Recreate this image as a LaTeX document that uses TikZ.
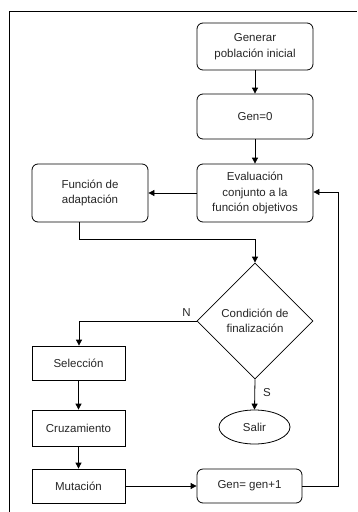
\documentclass[tikz,border=0pt]{standalone}
\usepackage{fontspec}
\setmainfont{Liberation Sans}
\usetikzlibrary{shapes.geometric,arrows.meta}
\begin{document}
\begin{tikzpicture}[x=1pt,y=-1pt,
  every node/.style={font=\fontsize{11.5}{15.5}\selectfont, align=center, inner sep=0pt, text=black!85},
  rbox/.style={draw, rounded corners=6pt, minimum width=116pt, minimum height=47pt, line width=0.8pt},
  sbox/.style={draw, minimum width=93pt, minimum height=34pt, line width=0.8pt},
  dia/.style={draw, diamond, minimum width=116pt, minimum height=116pt, line width=0.8pt},
  oval/.style={draw, ellipse, minimum width=71pt, minimum height=34pt, line width=0.8pt},
  conn/.style={line width=0.8pt, -{Triangle[length=6pt,width=6pt]}},
  plain/.style={line width=0.8pt}]
\useasboundingbox (0,0) rectangle (357,512);
\draw[line width=0.9pt] (9,512) -- (9,11) -- (357,11);
\node[rbox] (gen) at (255,46.5) {Generar\\población inicial};
\node[rbox, minimum height=45pt] (g0) at (255,116.5) {Gen=0};
\node[rbox, minimum height=58pt] (ev) at (255,193) {Evaluación\\conjunto a la\\función objetivos};
\node[rbox, minimum height=58pt] (fa) at (90,193) {Función de\\adaptación};
\node[dia] (cd) at (255,321) {Condición de\\finalización};
\node[sbox] (sel) at (78.5,363) {Selección};
\node[sbox, minimum height=36pt] (cru) at (78.5,428) {Cruzamiento};
\node[sbox] (mut) at (78.5,486) {Mutación};
\node[oval] (sal) at (254.5,427) {Salir};
\node[rbox, minimum width=105pt, minimum height=34pt] (g1) at (249.5,486) {Gen= gen+1};
\coordinate (fb) at (79,239);
\coordinate (nl) at (79,321);
\coordinate (rr) at (338,486);
\coordinate (rt) at (338,192);
\draw[conn] (gen) -- (g0);
\draw[conn] (g0) -- (ev);
\draw[conn] (ev.west) -- (fa.east);
\draw[conn] (fa.south -| fb) -- (fb) -| (cd.north);
\draw[conn] (cd.west) -- (nl) -- (sel.north -| nl);
\node[anchor=south east] (nlab) at (191,317) {N};
\draw[conn] (cd.south) -- (sal.north);
\node[anchor=west] (slab) at (263,393) {S};
\draw[conn] (sel) -- (cru);
\draw[conn] (cru) -- (mut);
\draw[conn] (mut) -- (g1);
\draw[conn] (g1.east) -- (rr) -- (rt) -- (ev.east |- rt);
\end{tikzpicture}
\end{document}
